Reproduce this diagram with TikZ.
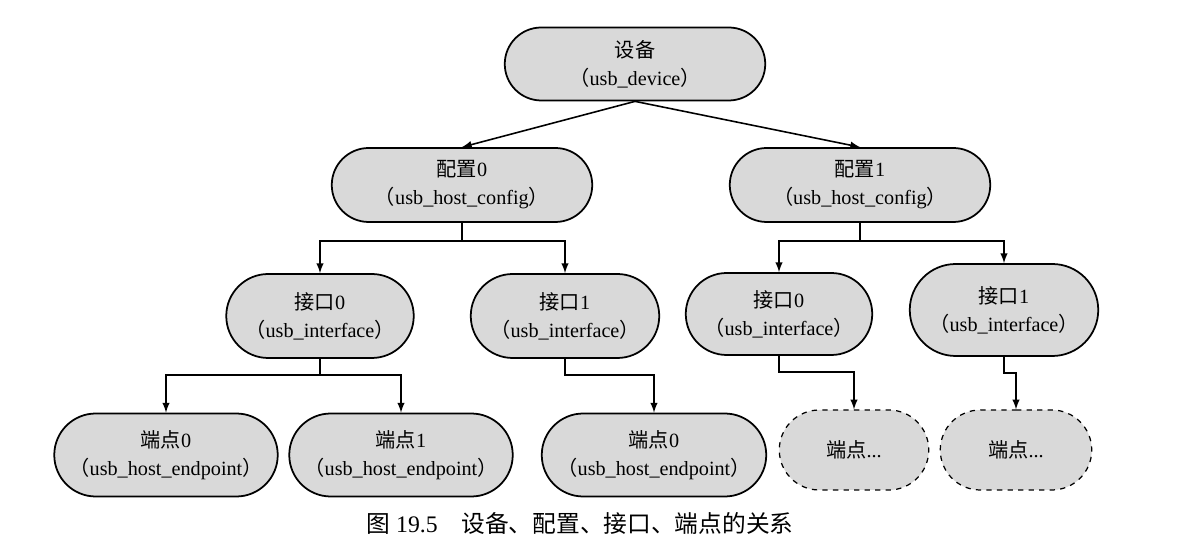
\documentclass[tikz,border=0pt]{standalone}
\usepackage{fontspec}
\setmainfont{Liberation Serif}
\newfontfamily\cjk{Noto Sans CJK SC}
\usepackage{tikz}
\usetikzlibrary{shapes.misc, arrows}

\newcommand{\zh}[1]{{\cjk #1}}

\begin{document}
\begin{tikzpicture}[
            usbnode/.style={rounded rectangle, draw, line width=1pt, fill=gray!30, align=center,
                            inner sep=1pt, font=\fontsize{11.5pt}{16pt}\selectfont}, % solid node
            morenode/.style={usbnode, dashed, line width=0.7pt}, % more endpoints
            link/.style={-latex, line width=0.9pt} % connector
            ]
        \useasboundingbox (0,0) rectangle (23.64,-10.78);

            % Device and its two configurations
            \node[usbnode, minimum width=5.28cm, minimum height=1.46cm] (dev) at (12.7,-1.28)
                {\zh{设备}\\\zh{（}usb\_device\zh{）}};
            \node[usbnode, minimum width=5.28cm, minimum height=1.48cm] (cfg0) at (9.24,-3.7)
                {\zh{配置}0\\\zh{（}usb\_host\_config\zh{）}};
            \node[usbnode, minimum width=5.28cm, minimum height=1.48cm] (cfg1) at (17.2,-3.7)
                {\zh{配置}1\\\zh{（}usb\_host\_config\zh{）}};

            % Interfaces
            \node[usbnode, minimum width=3.82cm, minimum height=1.68cm] (if00) at (6.4,-6.32)
                {\zh{接口}0\\\zh{（}usb\_interface\zh{）}};
            \node[usbnode, minimum width=3.84cm, minimum height=1.68cm] (if01) at (11.3,-6.32)
                {\zh{接口}1\\\zh{（}usb\_interface\zh{）}};
            \node[usbnode, minimum width=3.8cm, minimum height=1.64cm] (if10) at (15.58,-6.28)
                {\zh{接口}0\\\zh{（}usb\_interface\zh{）}};
            \node[usbnode, minimum width=3.84cm, minimum height=1.84cm] (if11) at (20.08,-6.2)
                {\zh{接口}1\\\zh{（}usb\_interface\zh{）}};

            % Endpoints
            \node[usbnode, minimum width=4.54cm, minimum height=1.66cm] (ep000) at (3.32,-9.1)
                {\zh{端点}0\\\zh{（}usb\_host\_endpoint\zh{）}};
            \node[usbnode, minimum width=4.54cm, minimum height=1.66cm] (ep001) at (8.02,-9.1)
                {\zh{端点}1\\\zh{（}usb\_host\_endpoint\zh{）}};
            \node[usbnode, minimum width=4.56cm, minimum height=1.66cm] (ep010) at (13.08,-9.1)
                {\zh{端点}0\\\zh{（}usb\_host\_endpoint\zh{）}};
            \node[morenode, minimum width=3.06cm, minimum height=1.6cm] (ep10x) at (17.08,-9.0)
                {\zh{端点}...};
            \node[morenode, minimum width=3.1cm, minimum height=1.6cm] (ep11x) at (20.32,-9.0)
                {\zh{端点}...};

            % Connectors
            \draw[link] (dev.south) -- (cfg0.north);
            \draw[link] (dev.south) -- (cfg1.north);
            \draw[link] (cfg0.south) -- ++(0,-0.36) -| (if00.north);
            \draw[link] (cfg0.south) -- ++(0,-0.36) -| (if01.north);
            \draw[link] (cfg1.south) -- ++(0,-0.36) -| (if10.north);
            \draw[link] (cfg1.south) -- ++(0,-0.36) -| (if11.north);
            \draw[link] (if00.south) -- ++(0,-0.32) -| (ep000.north);
            \draw[link] (if00.south) -- ++(0,-0.32) -| (ep001.north);
            \draw[link] (if01.south) -- ++(0,-0.32) -| (ep010.north);
            \draw[link] (if10.south) -- ++(0,-0.32) -| (ep10x.north);
            \draw[link] (if11.south) -- ++(0,-0.32) -| (ep11x.north);

            % Caption
            \node[font=\fontsize{13.5pt}{16pt}\selectfont] (cap) at (11.6,-10.46)
                {\zh{图} 19.5\quad\zh{设备、配置、接口、端点的关系}};

\end{tikzpicture}
\end{document}
